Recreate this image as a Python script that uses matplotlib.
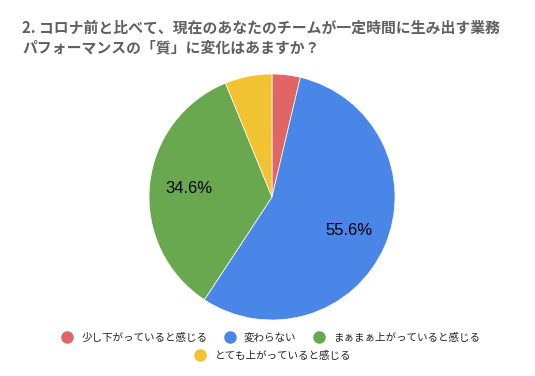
import matplotlib
matplotlib.use("Agg")
import matplotlib.pyplot as plt
from matplotlib.lines import Line2D

plt.rcParams["font.family"] = ["Noto Sans CJK JP", "DejaVu Sans"]

# Data (counts out of 81 responses)
labels = ["少し下がっていると感じる", "変わらない", "まぁまぁ上がっていると感じる", "とても上がっていると感じる"]
counts = [3, 45, 28, 5]
colors = ["#E06666", "#4A86E8", "#6AA84F", "#F1C232"]
title = "2. コロナ前と比べて、現在のあなたのチームが一定時間に生み出す業務\nパフォーマンスの「質」に変化はあますか？"

W, H = 535, 376
fig = plt.figure(figsize=(W / 100, H / 100), dpi=100)

# Title
fig.text(22 / W, 1 - 20 / H, title, ha="left", va="top", fontsize=10.7,
         fontweight="bold", color="#5f5f5f", linespacing=1.25)

# Pie
cx, cy, r = 272, 197, 123
ax = fig.add_axes([(cx - r) / W, (H - cy - r) / H, 2 * r / W, 2 * r / H])


def fmt(p):
    return f"{p:.1f}%" if p > 10 else ""


wedges, texts, autotexts = ax.pie(
    counts, colors=colors, startangle=90, counterclock=False,
    autopct=fmt, pctdistance=0.68,
    wedgeprops=dict(edgecolor="white", linewidth=0.5),
    textprops=dict(fontsize=12, family=["Liberation Sans"], color="black"),
)
ax.set_xlim(-1, 1)
ax.set_ylim(-1, 1)
ax.set_aspect("equal")

# Legend (two rows, centered)
handles = [Line2D([], [], marker="o", linestyle="", markersize=8,
                  markerfacecolor=c, markeredgecolor=c) for c in colors]
common = dict(frameon=False, fontsize=7.6, handlelength=1.0, handletextpad=0.85,
              columnspacing=1.6, borderpad=0, labelcolor="#222222")
fig.legend(handles[:3], labels[:3], ncol=3, loc="center",
           bbox_to_anchor=(271 / W, 1 - 338 / H), **common)
fig.legend(handles[3:], labels[3:], ncol=1, loc="center",
           bbox_to_anchor=(273 / W, 1 - 356 / H), **common)

fig.savefig("out.png", dpi=100)
